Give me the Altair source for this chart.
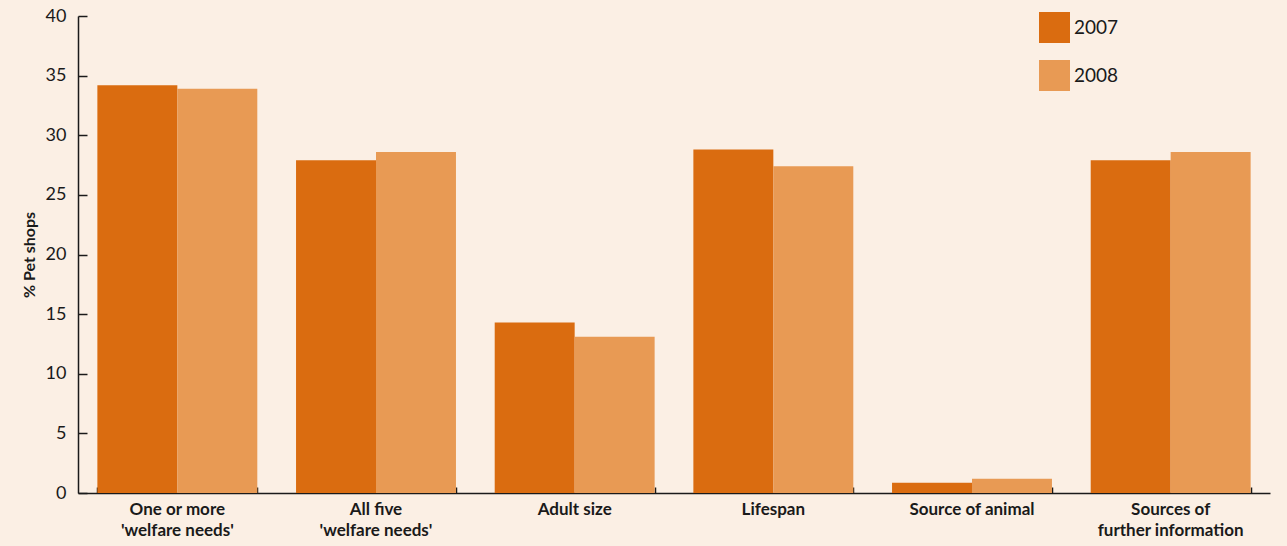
import altair as alt
import pandas as pd

# Survey categories ("|" marks a line break in the axis label)
categories = [
    "One or more|'welfare needs'",
    "All five|'welfare needs'",
    "Adult size",
    "Lifespan",
    "Source of animal",
    "Sources of|further information",
]
years = ["2007", "2008"]
values_2007 = [34.2, 27.9, 14.3, 28.8, 0.85, 27.9]
values_2008 = [33.9, 28.6, 13.1, 27.4, 1.2, 28.6]
y_ticks = [0, 5, 10, 15, 20, 25, 30, 35, 40]

colors = ["#DA6C10", "#E89A54"]
bg = "#FBEFE4"
ink = "#1A1A1A"
font = "Lato"

rows = []
for cat, a, b in zip(categories, values_2007, values_2008):
    rows.append({"category": cat, "year": years[0], "value": a})
    rows.append({"category": cat, "year": years[1], "value": b})
df = pd.DataFrame(rows)

W, H = 1192, 477

x_scale = alt.Scale(paddingInner=0.195, paddingOuter=0.0975)
y_scale = alt.Scale(domain=[0, 40], nice=False)

base = alt.Chart(df)

bars = base.mark_bar().encode(
    x=alt.X(
        "category:N",
        sort=categories,
        scale=x_scale,
        axis=alt.Axis(
            orient="bottom",
            title=None,
            ticks=False,
            tickSize=0,
            domain=True,
            domainColor=ink,
            domainWidth=1.5,
            labelAngle=0,
            labelExpr="split(datum.label, '|')",
            labelFont=font,
            labelFontWeight="bold",
            labelFontSize=17,
            labelLineHeight=21,
            labelColor=ink,
            labelPadding=8,
            labelBaseline="top",
        ),
    ),
    y=alt.Y(
        "value:Q",
        scale=y_scale,
        axis=alt.Axis(
            orient="left",
            values=y_ticks,
            title="% Pet shops",
            titleFont=font,
            titleFontWeight="bold",
            titleFontSize=16,
            titleColor=ink,
            titlePadding=8,
            ticks=False,
            tickSize=0,
            domain=True,
            domainColor=ink,
            domainWidth=1.5,
            labelFont=font,
            labelFontSize=18,
            labelColor=ink,
            labelPadding=12,
            grid=False,
        ),
    ),
    xOffset=alt.XOffset("year:N", sort=years, scale=alt.Scale(paddingInner=0, paddingOuter=0)),
    color=alt.Color(
        "year:N",
        sort=years,
        scale=alt.Scale(domain=years, range=colors),
        legend=alt.Legend(
            title=None,
            orient="none",
            legendX=961,
            legendY=-4,
            symbolType="square",
            symbolSize=961,
            symbolStrokeWidth=0,
            symbolOpacity=1,
            labelFont=font,
            labelFontSize=19,
            labelColor=ink,
            labelOffset=4,
            rowPadding=17,
        ),
    ),
)

# Inward-pointing tick marks: an invisible copy with axes moved onto the frame
ticks_layer = base.mark_bar(opacity=0).encode(
    x=alt.X(
        "category:N",
        sort=categories,
        scale=x_scale,
        axis=alt.Axis(
            orient="top",
            offset=-H,
            title=None,
            labels=False,
            domain=False,
            ticks=True,
            tickSize=6,
            tickWidth=1.5,
            tickColor=ink,
            tickBand="extent",
        ),
    ),
    y=alt.Y(
        "value:Q",
        scale=y_scale,
        axis=alt.Axis(
            orient="right",
            offset=-W,
            values=y_ticks,
            title=None,
            labels=False,
            domain=False,
            ticks=True,
            tickSize=9,
            tickWidth=1.5,
            tickColor=ink,
            grid=False,
        ),
    ),
    xOffset=alt.XOffset("year:N", sort=years),
)

chart = (
    alt.layer(bars, ticks_layer)
    .resolve_scale(x="shared", y="shared")
    .resolve_axis(x="independent", y="independent")
    .properties(
        width=W,
        height=H,
        background=bg,
        autosize=alt.AutoSizeParams(type="none"),
        padding={"left": 78, "top": 16, "right": 17, "bottom": 53},
    )
    .configure_view(stroke=None)
)

chart.save("out.html", embed_options={"renderer": "svg", "actions": False})
